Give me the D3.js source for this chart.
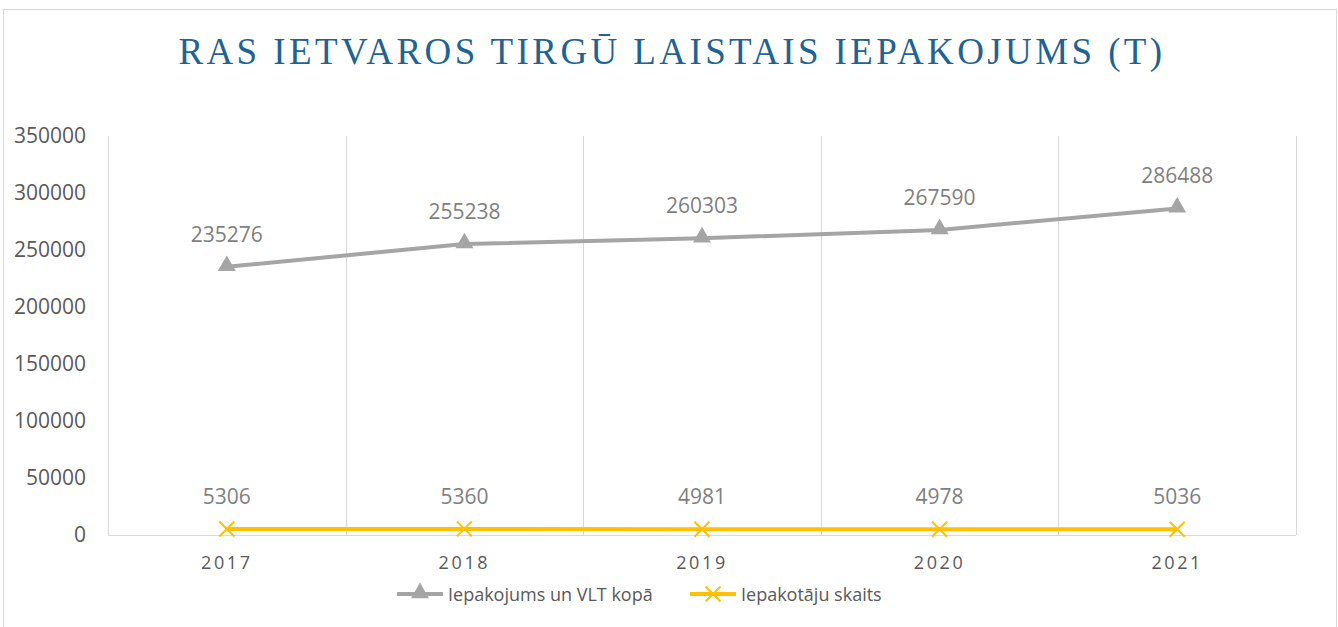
<!DOCTYPE html>
<html>
<head>
<meta charset="utf-8">
<script src="https://cdn.jsdelivr.net/npm/d3@7"></script>
<style>
  body { margin: 0; background: #fff; }
  text { font-family: "Open Sans", sans-serif; }
</style>
</head>
<body>
<div id="chart"></div>
<script>
// data
var years = ["2017", "2018", "2019", "2020", "2021"];
var totalPack = [235276, 255238, 260303, 267590, 286488];
var packers = [5306, 5360, 4981, 4978, 5036];
var yTicks = [0, 50000, 100000, 150000, 200000, 250000, 300000, 350000];
var seriesNames = ["Iepakojums un VLT kopā", "Iepakotāju skaits"];

var w = 1338, h = 627;
var margin = {top: 136, right: 42, bottom: 92, left: 108};
var width = w - margin.left - margin.right,
    height = h - margin.top - margin.bottom;

var svg = d3.select("#chart").append("svg")
    .attr("width", w)
    .attr("height", h);

// outer frame
svg.append("rect")
    .attr("x", 3.5).attr("y", 9.5)
    .attr("width", 1333).attr("height", 640)
    .attr("fill", "none")
    .attr("stroke", "#d9d9d9");

svg.append("text")
    .attr("x", 672).attr("y", 64)
    .attr("text-anchor", "middle")
    .style("font-family", "'Liberation Serif', serif")
    .style("font-size", "37px")
    .style("letter-spacing", "3.4px")
    .attr("fill", "#1f6391")
    .text("RAS IETVAROS TIRGŪ LAISTAIS IEPAKOJUMS (T)");

var g = svg.append("g").attr("transform", "translate(" + margin.left + "," + margin.top + ")");

var x = d3.scaleBand().domain(years).range([0, width]);
var y = d3.scaleLinear().domain([0, 350000]).range([height, 0]);

// vertical category dividers
g.selectAll(".vgrid")
    .data(d3.range(years.length + 1))
    .enter().append("line")
    .attr("x1", function(i) { return Math.round(i * x.bandwidth()) + 0.5; })
    .attr("x2", function(i) { return Math.round(i * x.bandwidth()) + 0.5; })
    .attr("y1", 0).attr("y2", height)
    .attr("stroke", "#d9d9d9");

g.append("line")
    .attr("x1", 0).attr("x2", width)
    .attr("y1", height + 0.5).attr("y2", height + 0.5)
    .attr("stroke", "#d9d9d9");

// y axis labels
var yAxis = d3.axisLeft(y).tickValues(yTicks).tickFormat(d3.format("d")).tickSize(0).tickPadding(22);
g.append("g").call(yAxis)
    .call(function(s) { s.select(".domain").remove(); })
    .selectAll("text")
    .style("font-family", "'Open Sans', sans-serif")
    .style("font-size", "21px")
    .attr("fill", "#595959");

// x axis labels
var xAxis = d3.axisBottom(x).tickSize(0).tickPadding(21);
g.append("g").attr("transform", "translate(0," + height + ")").call(xAxis)
    .call(function(s) { s.select(".domain").remove(); })
    .selectAll("text")
    .style("font-family", "'Open Sans', sans-serif")
    .style("font-size", "18px")
    .style("letter-spacing", "2.6px")
    .attr("fill", "#595959");

var cx = function(d, i) { return x(years[i]) + x.bandwidth() / 2; };

var line = d3.line()
    .x(function(d, i) { return cx(d, i); })
    .y(function(d) { return y(d); });

var grey = "#a5a5a5", gold = "#ffc000";

g.append("path").datum(totalPack)
    .attr("d", line).attr("fill", "none")
    .attr("stroke", grey).attr("stroke-width", 4);

g.append("path").datum(packers)
    .attr("d", line).attr("fill", "none")
    .attr("stroke", gold).attr("stroke-width", 4);

var tri = d3.symbol().type(d3.symbolTriangle).size(140);
function cross(s) {
    return "M" + (-s) + "," + (-s) + "L" + s + "," + s + "M" + (-s) + "," + s + "L" + s + "," + (-s);
}

g.selectAll(".tri").data(totalPack).enter().append("path")
    .attr("transform", function(d, i) { return "translate(" + cx(d, i) + "," + (y(d) - 1) + ")"; })
    .attr("d", tri).attr("fill", grey);

g.selectAll(".cross").data(packers).enter().append("path")
    .attr("transform", function(d, i) { return "translate(" + cx(d, i) + "," + y(d) + ")"; })
    .attr("d", cross(7.5)).attr("fill", "none")
    .attr("stroke", gold).attr("stroke-width", 2);

// data labels
g.selectAll(".lab1").data(totalPack).enter().append("text")
    .attr("x", function(d, i) { return cx(d, i); })
    .attr("y", function(d) { return y(d) - 25; })
    .attr("text-anchor", "middle")
    .style("font-size", "21px")
    .attr("fill", "#7f7f7f")
    .text(function(d) { return d; });

g.selectAll(".lab2").data(packers).enter().append("text")
    .attr("x", function(d, i) { return cx(d, i); })
    .attr("y", function(d) { return y(d) - 25; })
    .attr("text-anchor", "middle")
    .style("font-size", "21px")
    .attr("fill", "#7f7f7f")
    .text(function(d) { return d; });

// legend
var legend = svg.append("g").attr("transform", "translate(397,594)");
var items = [{name: seriesNames[0], color: grey, x: 0}, {name: seriesNames[1], color: gold, x: 293}];
items.forEach(function(it, k) {
    var lg = legend.append("g").attr("transform", "translate(" + it.x + ",0)");
    lg.append("line").attr("x1", 0).attr("x2", 46).attr("y1", 0).attr("y2", 0)
        .attr("stroke", it.color).attr("stroke-width", 4);
    if (k === 0) {
        lg.append("path").attr("transform", "translate(23,-1)").attr("d", tri).attr("fill", it.color);
    } else {
        lg.append("path").attr("transform", "translate(23,0)").attr("d", cross(7.5))
            .attr("fill", "none").attr("stroke", it.color).attr("stroke-width", 2);
    }
    lg.append("text").attr("x", 51).attr("y", 7)
        .style("font-size", "18px")
        .attr("fill", "#595959")
        .text(it.name);
});
</script>
</body>
</html>
